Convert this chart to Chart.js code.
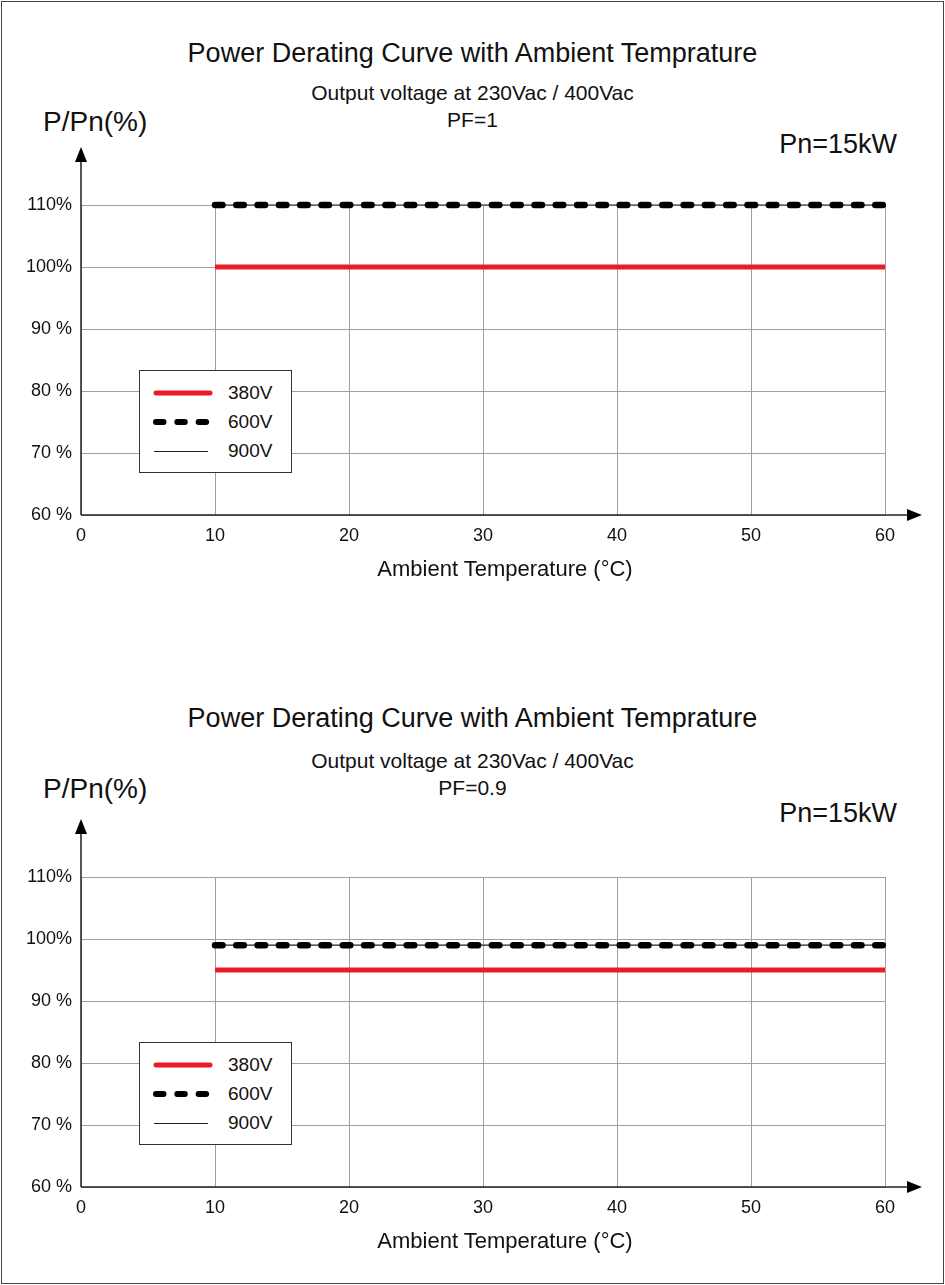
<!DOCTYPE html>
<html>
<head>
<meta charset="utf-8">
<script src="https://cdn.jsdelivr.net/npm/chart.js@4/dist/chart.umd.min.js"></script>
<style>
  body { margin: 0; background: #fff; font-family: 'Liberation Sans', Arial, sans-serif; color: #111; }
  #page { position: relative; width: 945px; height: 1285px; overflow: hidden; }
  #frame { position: absolute; left: 1px; top: 1px; width: 941px; height: 1281px; border: 1px solid #444; }
  .txt { position: absolute; height: 30px; line-height: 30px; white-space: nowrap; }
  .center { left: 0; width: 945px; text-align: center; }
  .xtitle { position: absolute; left: 305px; width: 400px; text-align: center; height: 30px; line-height: 30px; font-size: 22px; white-space: nowrap; }
  .plot { position: absolute; left: 0; width: 945px; }
  .legend { position: absolute; left: 139px; width: 151px; height: 101px; border: 1px solid #333; background: #fff; }
  .legend .row { position: absolute; left: 0; height: 20px; width: 150px; }
  .legend svg { position: absolute; left: 10px; top: 0; }
  .legend span { position: absolute; left: 88px; top: 0; line-height: 20px; font-size: 19px; }
</style>
</head>
<body>
<div id="page">
  <div id="frame"></div>

  <!-- chart 1 : PF=1 -->
  <div class="txt center" style="top:38px; font-size:27px;">Power Derating Curve with Ambient Temprature</div>
  <div class="txt center" style="top:78px; font-size:21px;">Output voltage at 230Vac / 400Vac</div>
  <div class="txt center" style="top:105px; font-size:21px;">PF=1</div>
  <div class="txt" style="top:107px; left:43px; font-size:28px;">P/Pn(%)</div>
  <div class="txt" style="top:129px; right:48px; font-size:27px;">Pn=15kW</div>
  <canvas class="plot" id="c1" width="945" height="640" style="top:0px;"></canvas>
  <div class="legend" id="lg1" style="top:370px;"></div>
  <div class="xtitle" style="top:554px;">Ambient Temperature (°C)</div>

  <!-- chart 2 : PF=0.9 -->
  <div class="txt center" style="top:703px; font-size:27px;">Power Derating Curve with Ambient Temprature</div>
  <div class="txt center" style="top:746px; font-size:21px;">Output voltage at 230Vac / 400Vac</div>
  <div class="txt center" style="top:773px; font-size:21px;">PF=0.9</div>
  <div class="txt" style="top:774px; left:43px; font-size:28px;">P/Pn(%)</div>
  <div class="txt" style="top:798px; right:48px; font-size:27px;">Pn=15kW</div>
  <canvas class="plot" id="c2" width="945" height="613" style="top:672px;"></canvas>
  <div class="legend" id="lg2" style="top:1042px;"></div>
  <div class="xtitle" style="top:1226px;">Ambient Temperature (°C)</div>
</div>

<script>
// --- data ---
const temps = [10, 60];                 // ambient temperature (°C)
const seriesNames = ['380V', '600V', '900V'];

// PF = 1
const pf1_380 = [100, 100];
const pf1_600 = [110, 110];
const pf1_900 = [110, 110];

// PF = 0.9
const pf09_380 = [95, 95];
const pf09_600 = [99, 99];
const pf09_900 = [99, 99];

const yTicks = [60, 70, 80, 90, 100, 110];
const yTickLabels = ['60 %', '70 %', '80 %', '90 %', '100%', '110%'];

const FONT = "'Liberation Sans', Arial, sans-serif";
const RED = '#ed1c24';

function toPoints(values) {
  return temps.map((t, i) => ({ x: t, y: values[i] }));
}

// axis arrows (the axes run past the plot area)
const arrowPlugin = {
  id: 'arrows',
  afterDraw(chart) {
    const { ctx, chartArea: a } = chart;
    ctx.save();
    ctx.strokeStyle = '#222';
    ctx.fillStyle = '#000';
    ctx.lineWidth = 1.5;
    ctx.beginPath();
    ctx.moveTo(a.left, a.bottom);
    ctx.lineTo(a.left, a.top - 50);
    ctx.moveTo(a.left, a.bottom);
    ctx.lineTo(a.right + 28, a.bottom);
    ctx.stroke();
    // y arrow head
    ctx.beginPath();
    ctx.moveTo(a.left, a.top - 58);
    ctx.lineTo(a.left - 6, a.top - 43);
    ctx.lineTo(a.left + 6, a.top - 43);
    ctx.closePath();
    ctx.fill();
    // x arrow head
    ctx.beginPath();
    ctx.moveTo(a.right + 37, a.bottom);
    ctx.lineTo(a.right + 22, a.bottom - 6);
    ctx.lineTo(a.right + 22, a.bottom + 6);
    ctx.closePath();
    ctx.fill();
    ctx.restore();
  }
};

function makeChart(canvasId, legendId, v380, v600, v900, padBottom) {
  const chart = new Chart(document.getElementById(canvasId), {
    type: 'line',
    data: {
      datasets: [
        { label: seriesNames[0], data: toPoints(v380), borderColor: RED, borderWidth: 5, borderCapStyle: 'butt' },
        { label: seriesNames[1], data: toPoints(v600), borderColor: '#000', borderWidth: 6.5, borderDash: [7.5, 13.8], borderCapStyle: 'round' },
        { label: seriesNames[2], data: toPoints(v900), borderColor: '#222', borderWidth: 1.2 }
      ]
    },
    options: {
      responsive: false,
      animation: false,
      devicePixelRatio: 1,
      layout: { padding: { top: 205, right: 60, left: 0, bottom: padBottom } },
      elements: { point: { radius: 0 }, line: { tension: 0 } },
      datasets: { line: { clip: false } },
      plugins: { legend: { display: false }, tooltip: { enabled: false } },
      scales: {
        x: {
          type: 'linear', min: 0, max: 60,
          ticks: { stepSize: 10, padding: 10, color: '#111', font: { family: FONT, size: 18 } },
          grid: { color: '#a0a0a0', lineWidth: 1, drawTicks: false },
          border: { display: false },
          afterFit(scale) { scale.height = 80; }
        },
        y: {
          min: 60, max: 110,
          ticks: { stepSize: 10, padding: 9, color: '#111', font: { family: FONT, size: 18 },
                   callback: v => yTickLabels[yTicks.indexOf(v)] },
          grid: { color: '#a0a0a0', lineWidth: 1, drawTicks: false },
          border: { display: false },
          afterFit(scale) { scale.width = 81; }
        }
      }
    },
    plugins: [arrowPlugin]
  });

  // legend box built from the datasets
  const box = document.getElementById(legendId);
  const rowTops = [12, 41, 70];
  chart.data.datasets.forEach((ds, i) => {
    const row = document.createElement('div');
    row.className = 'row';
    row.style.top = rowTops[i] + 'px';
    const thin = ds.borderWidth < 2;
    const w = thin ? 1 : Math.min(ds.borderWidth, 6);
    const y = thin ? 10.5 : 10;
    const dash = ds.borderDash ? `stroke-dasharray="${ds.borderDash.join(' ')}"` : '';
    const cap = thin ? 'butt' : 'round';
    const x1 = thin ? 4 : 6, x2 = thin ? 58 : 60;
    row.innerHTML = `<svg width="70" height="20"><line x1="${x1}" y1="${y}" x2="${x2}" y2="${y}" stroke="${ds.borderColor}" stroke-width="${w}" stroke-linecap="${cap}" ${dash}/></svg><span>${ds.label}</span>`;
    box.appendChild(row);
  });
  return chart;
}

makeChart('c1', 'lg1', pf1_380, pf1_600, pf1_900, 45);
makeChart('c2', 'lg2', pf09_380, pf09_600, pf09_900, 18);
</script>
</body>
</html>
